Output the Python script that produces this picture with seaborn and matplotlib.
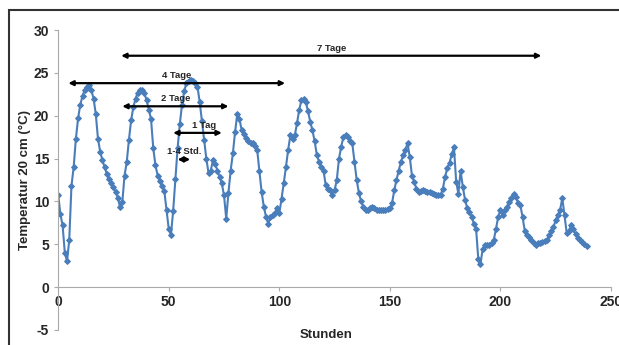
import numpy as np
import pandas as pd
import seaborn as sns
import matplotlib.pyplot as plt
from matplotlib.patches import Rectangle
from matplotlib.ticker import MultipleLocator

# soil temperature at 20 cm, hourly readings
temp = [
    10.8, 8.5, 7.2, 4.0, 3.0, 5.5, 11.8, 14.0, 17.3, 19.7, 21.3, 22.3,
    23.0, 23.3, 23.6, 23.0, 22.0, 20.2, 17.3, 15.8, 14.8, 14.0, 13.2, 12.6,
    12.1, 11.7, 11.1, 10.4, 9.3, 9.9, 13.0, 14.6, 17.2, 19.5, 21.0, 22.0,
    22.7, 23.0, 23.0, 22.6, 21.8, 20.7, 19.6, 16.2, 14.2, 13.0, 12.4, 11.8,
    11.2, 9.0, 6.8, 6.1, 8.9, 12.6, 16.2, 19.0, 21.3, 22.9, 23.8, 24.1,
    24.2, 24.1, 23.8, 23.4, 21.6, 19.4, 17.2, 15.0, 13.3, 13.6, 14.8, 14.4,
    13.6, 12.9, 12.1, 10.7, 8.0, 11.0, 13.6, 15.6, 18.1, 20.2, 19.6, 18.3,
    17.9, 17.4, 17.0, 16.8, 16.8, 16.5, 16.0, 13.6, 11.1, 9.4, 8.2, 7.4,
    8.2, 8.4, 8.6, 9.2, 8.6, 10.3, 12.1, 14.0, 16.0, 17.7, 17.3, 17.7,
    19.1, 20.7, 21.8, 22.0, 21.6, 20.5, 19.3, 18.3, 17.0, 15.4, 14.6, 14.0,
    13.6, 11.9, 11.5, 11.3, 10.7, 11.3, 12.5, 15.0, 16.4, 17.5, 17.7, 17.5,
    17.1, 16.8, 14.6, 12.5, 11.0, 10.0, 9.4, 9.0, 9.0, 9.2, 9.4, 9.2,
    9.0, 9.0, 9.0, 9.0, 9.0, 9.1, 9.2, 9.8, 11.3, 12.5, 13.6, 14.6,
    15.4, 16.0, 16.8, 15.2, 13.0, 12.3, 11.5, 11.1, 11.2, 11.3, 11.2, 11.1,
    11.1, 11.0, 10.9, 10.8, 10.7, 10.8, 11.5, 12.9, 13.9, 14.5, 15.5, 16.3,
    12.3, 10.9, 13.6, 11.7, 10.2, 9.2, 8.8, 8.2, 7.4, 6.8, 3.3, 2.7,
    4.5, 4.9, 4.9, 4.9, 5.1, 5.5, 6.8, 8.2, 9.0, 8.4, 9.0, 9.4,
    9.9, 10.4, 10.9, 10.5, 9.8, 9.6, 8.2, 6.6, 6.1, 5.8, 5.5, 5.1,
    4.9, 5.1, 5.2, 5.3, 5.4, 5.5, 6.1, 6.6, 7.0, 7.8, 8.4, 9.0,
    10.4, 8.4, 6.3, 6.6, 7.2, 6.8, 6.2, 5.7, 5.5, 5.3, 5.0, 4.8,
]
hours = list(range(len(temp)))

# time span arrows: label, start hour, end hour, level
span_labels = ["7 Tage", "4 Tage", "2 Tage", "1 Tag", "1-4 Std."]
span_start = [28.5, 4.6, 29, 52, 54]
span_end = [218.5, 102.6, 77, 74, 59.7]
span_level = [27.0, 23.8, 21.1, 18.0, 14.9]

df = pd.DataFrame({"Stunden": hours, "Temperatur": temp})

sns.set_style("white")
plt.rcParams['font.family'] = ['Liberation Sans', 'DejaVu Sans']
plt.rcParams['axes.unicode_minus'] = False

fig = plt.figure(figsize=(6.19, 3.45), dpi=100)
ax = fig.add_axes([0.094, 0.0435, 0.893, 0.8695])

# outer frame like the excel chart area
fig.patches.append(Rectangle((9 / 619, -0.1), 1.2, 1 - 10 / 345 + 0.1,
                             transform=fig.transFigure, fill=False,
                             edgecolor="#333333", lw=1.5))

sns.lineplot(data=df, x="Stunden", y="Temperatur", ax=ax, color="#4A7EBB",
             lw=1.5, marker="D", markersize=3, markeredgecolor="#4A7EBB")

for lab, x0, x1, lev in zip(span_labels, span_start, span_end, span_level):
    ax.annotate("", xy=(x0, lev), xytext=(x1, lev),
                arrowprops=dict(arrowstyle="<|-|>", color="black", lw=1.6,
                                mutation_scale=7, shrinkA=0, shrinkB=0))
    ax.text((x0 + x1) / 2 + (0 if lab != "1 Tag" else 3), lev + 0.35, lab,
            ha="center", va="bottom", fontsize=6.8, fontweight="bold")

ax.set_xlim(0, 250)
ax.set_ylim(-5, 30)
ax.xaxis.set_major_locator(MultipleLocator(50))
ax.xaxis.set_minor_locator(MultipleLocator(1))
ax.yaxis.set_major_locator(MultipleLocator(5))

ax.spines["top"].set_visible(False)
ax.spines["right"].set_visible(False)
ax.spines["bottom"].set_position(("data", 0))
ax.spines["bottom"].set_color("#AAAAAA")
ax.spines["left"].set_color("#AAAAAA")
ax.tick_params(axis="x", which="major", length=3, color="#AAAAAA", pad=3)
ax.tick_params(axis="x", which="minor", length=2, color="#BBBBBB", width=0.6)
ax.tick_params(axis="y", length=3, color="#AAAAAA", direction="out", left=True)
ax.tick_params(axis="x", bottom=True, direction="out")

for t in ax.get_xticklabels() + ax.get_yticklabels():
    t.set_fontweight("bold")
    t.set_fontsize(10)

ax.set_xlabel("Stunden", fontsize=9.5, fontweight="bold")
ax.xaxis.set_label_coords(0.485, 0.004)
ax.set_ylabel("Temperatur 20 cm (°C)", fontsize=9.5, fontweight="bold")
ax.yaxis.set_label_coords(-0.05, 0.5)

fig.savefig("out.png", dpi=100)
